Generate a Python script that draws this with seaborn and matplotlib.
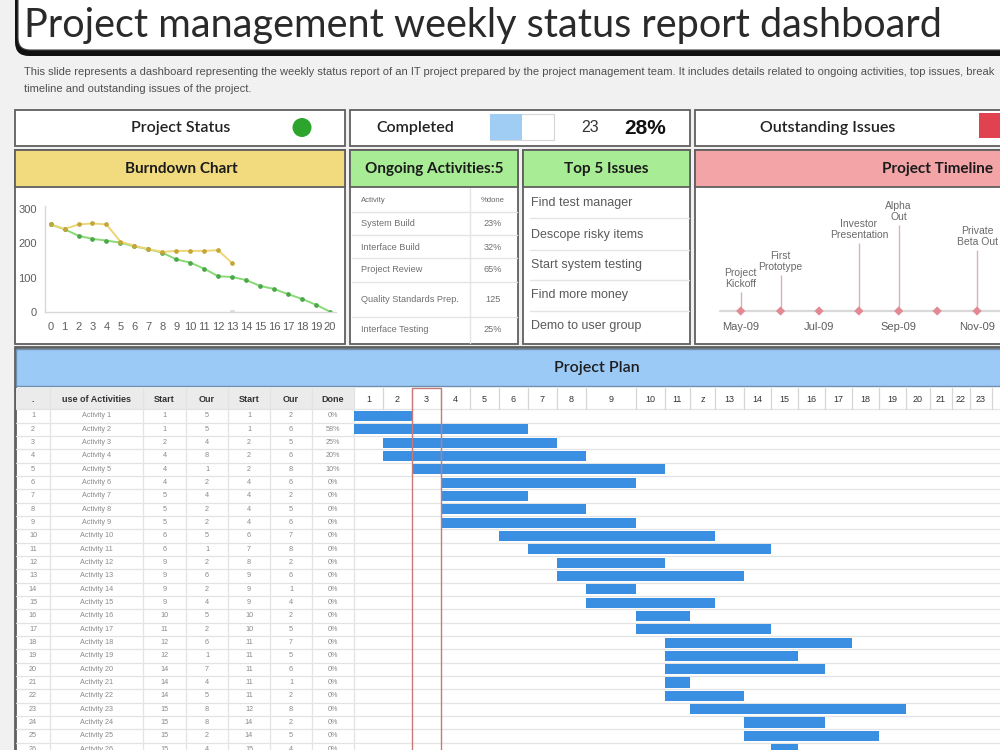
import numpy as np
import pandas as pd
import matplotlib
matplotlib.use("Agg")
import matplotlib.pyplot as plt
import matplotlib.dates as mdates
from matplotlib.patches import Rectangle, FancyBboxPatch, Circle
import seaborn as sns

# ------------------------------------------------------------------ data
title = "Project management weekly status report dashboard"
subtitle_lines = [
    "This slide represents a dashboard representing the weekly status report of an IT project prepared by the project management team. "
    "It includes details related to ongoing activities, top issues, break",
    "timeline and outstanding issues of the project.",
]
completed_count = 23
completed_pct = 28
progress_fraction = 0.5

burn_x = [0, 1, 2, 3, 4, 5, 6, 7, 8, 9, 10, 11, 12, 13, 14, 15, 16, 17, 18, 19, 20]
burn_plan = [255, 241, 222, 213, 208, 202, 191, 183, 173, 153, 144, 126, 104, 102, 93, 76, 67, 52, 38, 21, 1]
burn_actual_x = [0, 1, 2, 3, 4, 5, 6, 7, 8, 9, 10, 11, 12, 13]
burn_actual = [255, 242, 255, 258, 255, 205, 193, 183, 175, 178, 178, 178, 180, 142]
burn_bars = [0, 2, 2, 0, 3, 3, 3, 1, 0, 0, 0, 0, 0, 8, 0, 0, 0, 0, 0, 0, 0]

ongoing_header = ["Activity", "%done"]
ongoing_acts = ["System Build", "Interface Build", "Project Review", "Quality Standards Prep.", "Interface Testing"]
ongoing_done = ["23%", "32%", "65%", "125", "25%"]

top_issues = ["Find test manager", "Descope risky items", "Start system testing",
              "Find more money", "Demo to user group"]

timeline_dots = ["2009-05-01", "2009-06-01", "2009-07-01", "2009-08-01",
                 "2009-09-01", "2009-10-01", "2009-11-01"]
timeline_ticks = ["2009-05-01", "2009-07-01", "2009-09-01", "2009-11-01"]
milestones = ["Project\nKickoff", "First\nPrototype", "Investor\nPresentation", "Alpha\nOut", "Private\nBeta Out"]
milestone_dates = ["2009-05-01", "2009-06-01", "2009-08-01", "2009-09-01", "2009-11-01"]
milestone_height = [19, 36, 68, 86, 61]

plan_cols = [".", "use of Activities", "Start", "Our", "Start", "Our", "Done"]
act_no = [1, 2, 3, 4, 5, 6, 7, 8, 9, 10, 11, 12, 13, 14, 15, 16, 17, 18, 19, 20, 21, 22, 23, 24, 25, 26]
act_start = [1, 1, 2, 4, 4, 4, 5, 5, 5, 6, 6, 9, 9, 9, 9, 10, 11, 12, 12, 14, 14, 14, 15, 15, 15, 15]
act_dur = [5, 5, 4, 8, 1, 2, 4, 2, 2, 5, 1, 2, 6, 2, 4, 5, 2, 6, 1, 7, 4, 5, 8, 8, 2, 4]
plan_start = [1, 1, 2, 2, 2, 4, 4, 4, 4, 6, 7, 8, 9, 9, 9, 10, 10, 11, 11, 11, 11, 11, 12, 14, 14, 15]
plan_dur = [2, 6, 5, 6, 8, 6, 2, 5, 6, 7, 8, 2, 6, 1, 4, 2, 5, 7, 5, 6, 1, 2, 8, 2, 5, 4]
act_done = ["0%", "58%", "25%", "20%", "10%", "0%", "0%", "0%", "0%", "0%", "0%", "0%", "0%",
            "0%", "0%", "0%", "0%", "0%", "0%", "0%", "0%", "0%", "0%", "0%", "0%", "0%"]
gantt_start = [1, 1, 2, 2, 3, 4, 4, 4, 4, 6, 7, 8, 8, 9, 9, 10, 10, 11, 11, 11, 11, 11, 12, 14, 14, 15]
gantt_end = [2, 6, 7, 8, 10, 9, 6, 8, 9, 12, 14, 10, 13, 9, 12, 11, 14, 17, 15, 16, 11, 13, 19, 16, 18, 15]
gantt_labels = ["1", "2", "3", "4", "5", "6", "7", "8", "9", "10", "11", "z", "13", "14",
                "15", "16", "17", "18", "19", "20", "21", "22", "23", "24"]

# ------------------------------------------------------------------ layout
W, H = 1000, 750
sns.set_theme(style="white")
HEAD = ["Lato", "DejaVu Sans"]
plt.rcParams["font.family"] = HEAD
NARROW = ["Liberation Sans Narrow", "Liberation Sans", "DejaVu Sans"]

fig = plt.figure(figsize=(10, 7.5), dpi=100)
fig.patch.set_facecolor("#f1f1f1")


def px_axes(x0, y0, x1, y1, z=1):
    return fig.add_axes([x0 / W, 1 - y1 / H, (x1 - x0) / W, (y1 - y0) / H], zorder=z)


bg = px_axes(0, 0, W, H, z=0)
bg.set_xlim(0, W)
bg.set_ylim(H, 0)
bg.axis("off")

BORDER = "#5f5f5f"


def box(ax, x0, y0, x1, y1, fc="white", ec=BORDER, lw=1.3, z=1):
    ax.add_patch(Rectangle((x0, y0), x1 - x0, y1 - y0, fc=fc, ec=ec, lw=lw, zorder=z))


# title box
bg.add_patch(FancyBboxPatch((15, -30), 1010, 86, boxstyle="round,pad=0,rounding_size=14",
                            fc="#111111", ec="none", zorder=1))
bg.add_patch(FancyBboxPatch((18, -30), 1010, 80, boxstyle="round,pad=0,rounding_size=12",
                            fc="white", ec="#444444", lw=0.8, zorder=2))
bg.text(24, 37, title, fontsize=28.5, fontweight="normal", color="#2a2a2a",
        va="baseline", ha="left", zorder=3)
for i, line in enumerate(subtitle_lines):
    bg.text(24, 72 + i * 17, line, fontsize=8.0, color="#505050", va="center", ha="left",
            family=NARROW)

# status row
box(bg, 15, 110, 345, 146)
bg.text(181, 128, "Project Status", fontsize=11.5, color="#222", ha="center", va="center", fontweight="semibold")
bg.add_patch(Circle((302, 127.5), 9.5, fc="#2da52d", ec="none", zorder=3))

box(bg, 350, 110, 690, 146)
bg.text(415, 128, "Completed", fontsize=11.5, color="#222", ha="center", va="center", fontweight="semibold")
bg.add_patch(Rectangle((490, 114), 64, 26, fc="white", ec="#d5d5d5", lw=0.8, zorder=2))
bg.add_patch(Rectangle((490, 114), 64 * progress_fraction, 26, fc="#9fcdf3", ec="none", zorder=3))
bg.text(590, 128, f"{completed_count}", fontsize=11.5, color="#333", ha="center", va="center",
        family=NARROW)
bg.text(645, 128, f"{completed_pct}%", fontsize=15, color="#111", ha="center", va="center",
        fontweight="bold", family=NARROW)

box(bg, 695, 110, 1010, 146)
bg.text(828, 128, "Outstanding Issues", fontsize=11.5, color="#222", ha="center", va="center", fontweight="semibold")
bg.add_patch(Rectangle((979, 113), 30, 25, fc="#e0434f", ec="none", zorder=3))

# panel row
panels = [(15, 345, "#f1db7e", "Burndown Chart", 181),
          (350, 518, "#a9ec96", "Ongoing Activities:5", 434),
          (523, 690, "#a9ec96", "Top 5 Issues", 606),
          (695, 1010, "#f2a4a7", "Project Timeline", 938)]
for x0, x1, col, lab, cx in panels:
    box(bg, x0, 150, x1, 344)
    box(bg, x0, 150, x1, 187, fc=col, z=2)
    bg.text(cx, 169, lab, fontsize=11, color="#1b1b1b", ha="center", va="center", fontweight="bold", zorder=4)

# ongoing activities table
ong_rows_y = [200, 223, 247, 270, 300, 330]
for yy in [212, 235, 258, 282, 317]:
    bg.plot([352, 517], [yy, yy], color="#e4e4e4", lw=1, zorder=3)
bg.plot([470, 470], [188, 343], color="#e4e4e4", lw=1, zorder=3)
bg.text(361, ong_rows_y[0], ongoing_header[0], fontsize=5.5, color="#666", va="center", family=NARROW, zorder=4)
bg.text(493, ong_rows_y[0], ongoing_header[1], fontsize=5.5, color="#666", va="center", ha="center", family=NARROW, zorder=4)
for yy, a, d in zip(ong_rows_y[1:], ongoing_acts, ongoing_done):
    bg.text(361, yy, a, fontsize=6.6, color="#707070", va="center", family=NARROW, zorder=4)
    bg.text(493, yy, d, fontsize=6.6, color="#707070", va="center", ha="center", family=NARROW, zorder=4)

# top issues
issue_y = [203, 235, 265, 295, 326]
for yy in [218, 250, 280, 311]:
    bg.plot([530, 689], [yy, yy], color="#e4e4e4", lw=1, zorder=3)
for yy, t in zip(issue_y, top_issues):
    bg.text(531, yy, t, fontsize=9, color="#5a5a5a", va="center", family=NARROW, zorder=4)

# ---------------- burndown chart
bx = px_axes(45, 312 - 310 * 0.3433, 45 + 20.8 * 13.97, 312, z=2)
bx.patch.set_alpha(0)
bx.bar(burn_x, burn_bars, width=0.45, color="#d6d6d6")
sns.lineplot(x=burn_x, y=burn_plan, ax=bx, color="#8ad977", lw=1.4, marker="o", markersize=2.6,
             markerfacecolor="#4aa846", markeredgecolor="#4aa846")
sns.lineplot(x=burn_actual_x, y=burn_actual, ax=bx, color="#ecd676", lw=1.4, marker="o", markersize=2.6,
             markerfacecolor="#c4a53a", markeredgecolor="#c4a53a")
bx.set_xlim(-0.4, 20.4)
bx.set_ylim(0, 310)
bx.set_xticks(burn_x)
bx.set_yticks([0, 100, 200, 300])
bx.tick_params(axis="both", length=0, labelsize=8, labelcolor="#5e5e5e", pad=7)
bx.tick_params(axis="y", pad=6)
for lbl in bx.get_xticklabels() + bx.get_yticklabels():
    lbl.set_family(NARROW)
for s in ["top", "right"]:
    bx.spines[s].set_visible(False)
for s in ["left", "bottom"]:
    bx.spines[s].set_color("#d8d8d8")
    bx.spines[s].set_linewidth(1)
bx.grid(False)

# ---------------- project timeline
tx = px_axes(700, 185, 1000, 318, z=2)
tx.patch.set_alpha(0)
d_may = mdates.date2num(pd.Timestamp("2009-05-01"))
px_day = 39.17 / 30.5
tx.set_xlim(d_may - 40.7 / px_day, d_may + 259.3 / px_day)
tx.set_ylim(-7, 126)
dots = pd.to_datetime(timeline_dots)
mdts = pd.to_datetime(milestone_dates)
tx.axhline(0, xmin=20 / 300, xmax=1, color="#d9d9d9", lw=1.6, zorder=1)
tx.vlines(mdts, 0, milestone_height, color="#d7b3b8", lw=1, zorder=2)
sns.scatterplot(x=dots, y=[0] * len(dots), ax=tx, marker="D", s=22, color="#e38994",
                edgecolor="none", zorder=3, legend=False)
for d, h, lab in zip(mdts, milestone_height, milestones):
    tx.text(d, h + 3, lab, ha="center", va="bottom", fontsize=7.5, color="#6a6a6a",
            linespacing=1.15, family=NARROW)
tx.set_xticks(pd.to_datetime(timeline_ticks))
tx.xaxis.set_major_formatter(mdates.DateFormatter("%b-%y"))
tx.set_yticks([])
tx.set_xlabel("")
tx.set_ylabel("")
tx.tick_params(axis="x", length=0, labelsize=8, labelcolor="#5e5e5e", pad=3)
for lbl in tx.get_xticklabels():
    lbl.set_family(NARROW)
for s in tx.spines.values():
    s.set_visible(False)
tx.grid(False)

# ---------------- project plan
box(bg, 15, 347, 1010, 760, lw=2)
box(bg, 16, 349, 1010, 386, fc="#9ccaf6", ec="#6f8fae", lw=1, z=2)
bg.text(597, 368, "Project Plan", fontsize=11.5, color="#1e1e1e", ha="center", va="center",
        fontweight="semibold", zorder=4)
bg.add_patch(Rectangle((16, 388), 338, 21.3, fc="#ebebeb", ec="none", zorder=2))

ROW_TOP = 409.3
ROW_H = 13.33
table_edges = [16, 50, 143, 186, 228, 270, 312, 354]
for k in range(28):
    yy = ROW_TOP + k * ROW_H
    bg.plot([16, 1000], [yy, yy], color="#e3e3e3", lw=0.9, zorder=3)
for xe in table_edges[1:]:
    bg.plot([xe, xe], [388, 750], color="#e3e3e3", lw=0.9, zorder=3)
for i, h in enumerate(plan_cols):
    cx = (table_edges[i] + table_edges[i + 1]) / 2
    bg.text(cx, 399.5, h, fontsize=6.5, color="#333", ha="center", va="center",
            family=NARROW, fontweight="bold", zorder=4)
for r in range(len(act_no)):
    yy = ROW_TOP + (r + 0.5) * ROW_H
    vals = [str(act_no[r]), f"Activity {act_no[r]}", str(act_start[r]), str(act_dur[r]),
            str(plan_start[r]), str(plan_dur[r]), act_done[r]]
    for i, v in enumerate(vals):
        cx = (table_edges[i] + table_edges[i + 1]) / 2
        bg.text(cx, yy, v, fontsize=5.2, color="#8a8a8a", ha="center", va="center",
                family=NARROW, zorder=4)

# gantt (x in pixel units across columns of uneven width)
gantt_col_width = [29, 29, 29, 29, 29, 29, 29, 29, 50, 29, 25, 25, 29, 27, 27, 27, 27, 27, 27, 24, 22, 18, 22, 20]
edges = 354 + np.concatenate([[0], np.cumsum(gantt_col_width)])
for xe in edges[1:]:
    bg.plot([xe, xe], [388, ROW_TOP], color="#d6d6d6", lw=0.9, zorder=3)

gx = px_axes(354, ROW_TOP, 1000, 750, z=2)
gx.patch.set_alpha(0)
rows = np.arange(1, len(gantt_start) + 1)
lefts = edges[np.array(gantt_start) - 1]
rights = edges[np.array(gantt_end)]
gx.barh(rows, rights - lefts, left=lefts, height=0.76, color="#3b8fe3", edgecolor="none")
gx.set_xlim(354, 1000)
gx.set_ylim(0.5 + (750 - ROW_TOP) / ROW_H, 0.5)
centers = (edges[:-1] + edges[1:]) / 2
gx.xaxis.tick_top()
gx.set_xticks(centers[:23])
gx.set_xticklabels(gantt_labels[:23])
gx.tick_params(axis="x", length=0, labelsize=6.5, labelcolor="#333", pad=4)
for lbl in gx.get_xticklabels():
    lbl.set_family(NARROW)
gx.set_yticks([])
for s in gx.spines.values():
    s.set_visible(False)
gx.grid(False)

fg = px_axes(0, 0, W, H, z=5)
fg.set_xlim(0, W)
fg.set_ylim(H, 0)
fg.axis("off")
fg.patch.set_alpha(0)
fg.add_patch(Rectangle((edges[2], 388), edges[3] - edges[2], 380, fill=False, ec="#c77a78", lw=1))

fig.savefig("out.png", dpi=100, facecolor=fig.get_facecolor())
